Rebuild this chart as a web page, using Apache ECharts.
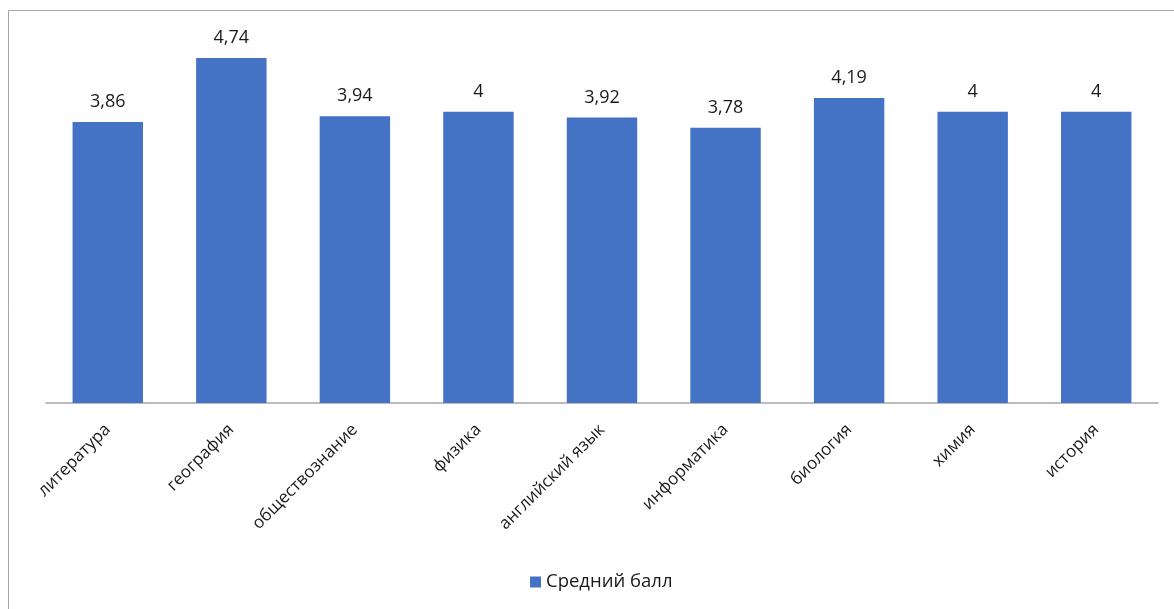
<!DOCTYPE html>
<html>
<head>
<meta charset="utf-8">
<script src="https://cdn.jsdelivr.net/npm/echarts@6/dist/echarts.min.js"></script>
<style>
html,body{margin:0;padding:0;background:#fff;}
#c{width:1174px;height:609px;}
</style>
</head>
<body>
<div id="c"></div>
<script>
const categories = ['литература','география','обществознание','физика','английский язык','информатика','биология','химия','история'];
const values = [3.86, 4.74, 3.94, 4, 3.92, 3.78, 4.19, 4, 4];
const seriesName = 'Средний балл';

const chart = echarts.init(document.getElementById('c'));
const font = '"Open Sans", "Noto Sans", sans-serif';
chart.setOption({
  animation: false,
  textStyle: { fontFamily: font },
  graphic: [{
    type: 'rect',
    shape: { x: 8.5, y: 10.5, width: 1300, height: 700 },
    style: { fill: 'none', stroke: '#a6a6a6', lineWidth: 1 },
    silent: true
  }],
  grid: { left: 46, right: 16, top: 39, bottom: 206, containLabel: false },
  legend: {
    top: 566,
    left: 525,
    icon: 'rect',
    itemWidth: 11,
    itemHeight: 11,
    itemGap: 6,
    textStyle: { fontFamily: font, fontSize: 18.5, lineHeight: 22, color: '#1a1a1a' },
    data: [seriesName]
  },
  xAxis: {
    type: 'category',
    data: categories,
    axisLine: { lineStyle: { color: '#a6a6a6', width: 1.5 } },
    axisTick: { show: false },
    axisLabel: { rotate: 45, margin: 24, fontSize: 17, color: '#1a1a1a', fontFamily: font, interval: 0 }
  },
  yAxis: {
    type: 'value',
    min: 0, max: 5,
    show: false,
    splitLine: { show: false }
  },
  series: [{
    name: seriesName,
    type: 'bar',
    data: values,
    barCategoryGap: '43%',
    itemStyle: { color: '#4472c4' },
    label: {
      show: true,
      position: 'top',
      distance: 11,
      fontSize: 18,
      color: '#1a1a1a',
      fontFamily: font,
      formatter: p => String(p.value).replace('.', ',')
    }
  }]
});
</script>
</body>
</html>
